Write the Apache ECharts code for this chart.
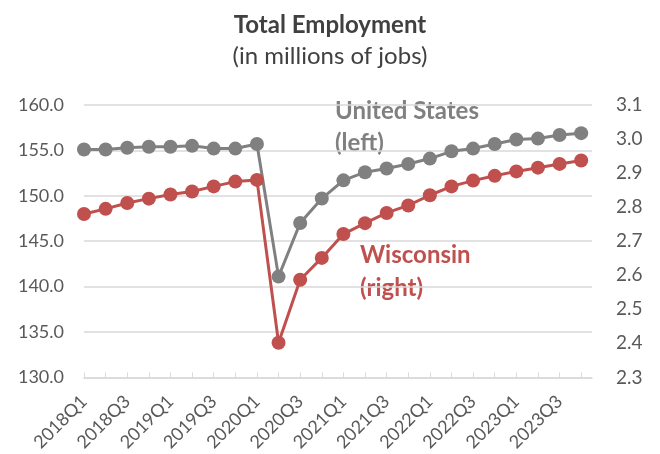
<!DOCTYPE html>
<html>
<head>
<meta charset="utf-8">
<script src="https://cdn.jsdelivr.net/npm/echarts@6/dist/echarts.min.js"></script>
<style>
  html, body { margin: 0; padding: 0; background: #fff; }
  #chart { width: 660px; height: 454px; }
</style>
</head>
<body>
<div id="chart"></div>
<script>
// quarters 2018Q1 .. 2023Q4
const quarters = ['2018Q1', '2018Q2', '2018Q3', '2018Q4', '2019Q1', '2019Q2', '2019Q3', '2019Q4',
  '2020Q1', '2020Q2', '2020Q3', '2020Q4', '2021Q1', '2021Q2', '2021Q3', '2021Q4',
  '2022Q1', '2022Q2', '2022Q3', '2022Q4', '2023Q1', '2023Q2', '2023Q3', '2023Q4']
// United States, left axis (millions)
const usJobs = [155.1, 155.1, 155.3, 155.4, 155.4, 155.5, 155.2, 155.2,
  155.7, 141.1, 147.0, 149.7, 151.7, 152.6, 153.0, 153.5,
  154.1, 154.9, 155.2, 155.7, 156.2, 156.3, 156.7, 156.9]
// Wisconsin, right axis (millions)
const wiJobs = [2.780, 2.795, 2.812, 2.825, 2.837, 2.846, 2.861, 2.875,
  2.880, 2.402, 2.587, 2.651, 2.721, 2.753, 2.783, 2.805,
  2.835, 2.861, 2.878, 2.892, 2.905, 2.916, 2.927, 2.937]

const font = 'Lato, "Noto Sans", sans-serif'
const tickIdx = quarters.map((q, i) => i)
const labelIdx = tickIdx.filter(i => i % 2 === 0)

const chart = echarts.init(document.getElementById('chart'), null, {renderer: 'canvas'})
const option = {
  animation: false,
  textStyle: {fontFamily: font},
  title: {
    text: 'Total Employment',
    subtext: '(in millions of jobs)',
    left: 'center',
    top: 8,
    itemGap: 7,
    textStyle: {fontFamily: font, fontSize: 24, fontWeight: 'bold', color: '#404040'},
    subtextStyle: {fontFamily: font, fontSize: 24, color: '#404040'}
  },
  grid: {left: 84, right: 68, top: 105, bottom: 76},
  xAxis: {
    type: 'value',
    min: 0,
    max: 23.5,
    splitLine: {show: false},
    axisLine: {show: true, lineStyle: {color: '#d9d9d9', width: 1.5}},
    axisTick: {show: true, inside: true, length: 5, customValues: tickIdx, lineStyle: {color: '#d9d9d9'}},
    axisLabel: {
      customValues: labelIdx,
      rotate: 45,
      margin: 21,
      fontSize: 18,
      color: '#595959',
      fontFamily: font,
      formatter: v => quarters[v] || ''
    }
  },
  yAxis: [{
    type: 'value',
    min: 130,
    max: 160,
    interval: 5,
    axisLine: {show: false},
    axisTick: {show: false},
    splitLine: {lineStyle: {color: '#d9d9d9', width: 1.5}},
    axisLabel: {fontSize: 18, color: '#595959', margin: 20, fontFamily: font, formatter: v => v.toFixed(1)}
  }, {
    type: 'value',
    min: 2.3,
    max: 3.1,
    interval: 0.1,
    axisLine: {show: false},
    axisTick: {show: false},
    splitLine: {show: false},
    axisLabel: {fontSize: 19, color: '#595959', margin: 24, fontFamily: font, formatter: v => v.toFixed(1)}
  }],
  series: [{
    name: 'United States',
    type: 'line',
    yAxisIndex: 0,
    data: usJobs.map((v, i) => [i, v]),
    symbol: 'circle',
    symbolSize: 14,
    lineStyle: {color: '#808080', width: 3},
    itemStyle: {color: '#808080'}
  }, {
    name: 'Wisconsin',
    type: 'line',
    yAxisIndex: 1,
    data: wiJobs.map((v, i) => [i, v]),
    symbol: 'circle',
    symbolSize: 14,
    lineStyle: {color: '#c0504d', width: 3},
    itemStyle: {color: '#c0504d'}
  }],
  graphic: [{
    type: 'text',
    left: 335,
    top: 95,
    style: {text: 'United States\n(left)', font: 'bold 24px ' + font, fill: '#808080', lineHeight: 32}
  }, {
    type: 'text',
    left: 360,
    top: 239,
    style: {text: 'Wisconsin\n(right)', font: 'bold 24px ' + font, fill: '#c0504d', lineHeight: 33}
  }]
}
chart.setOption(option)
</script>
</body>
</html>
